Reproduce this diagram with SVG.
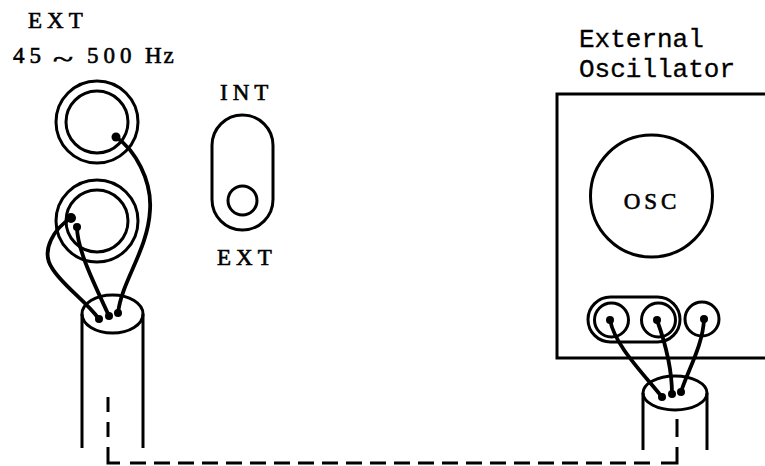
<svg xmlns="http://www.w3.org/2000/svg" width="765" height="466" viewBox="0 0 765 466">
<style>
.ln{fill:none;stroke:#000;stroke-width:3}
.w{fill:none;stroke:#000;stroke-width:3.8;stroke-linecap:round}
.d{fill:#000}
.dash{fill:none;stroke:#000;stroke-width:3}
.serif{font-family:"Liberation Serif","Times New Roman",serif;font-size:23px;fill:#000;stroke:#000;stroke-width:0.6}
.mono{font-family:"Liberation Mono","Courier New",monospace;font-size:26px;fill:#000;stroke:#000;stroke-width:0.3}
</style>
<rect width="765" height="466" fill="#fff"/>
<g id="labels">
<text class="serif" x="28" y="28" letter-spacing="5">EXT</text>
<text class="serif" x="13" y="63" letter-spacing="5">45</text>
<text class="serif" x="53" y="67" font-size="42" textLength="20" lengthAdjust="spacingAndGlyphs">~</text>
<text class="serif" x="87" y="63" letter-spacing="5">500</text>
<text class="serif" x="145" y="63" letter-spacing="2">Hz</text>
</g>
<g id="jack-top">
<circle class="ln" cx="97" cy="122" r="41"/>
<circle class="ln" cx="97" cy="122" r="31"/>
<circle class="d" cx="116" cy="137" r="4.5"/>
</g>
<g id="jack-bottom">
<circle class="ln" cx="97" cy="221" r="41"/>
<circle class="ln" cx="97" cy="221" r="31"/>
<circle class="d" cx="71" cy="218" r="5"/>
<circle class="d" cx="77" cy="227" r="4"/>
</g>
<g id="switch">
<text class="serif" x="220" y="100" letter-spacing="5">INT</text>
<rect class="ln" x="212" y="115" width="61" height="115" rx="30.5"/>
<circle class="ln" cx="242.5" cy="200.5" r="14.5"/>
<text class="serif" x="217" y="265" letter-spacing="5">EXT</text>
</g>
<g id="cable-left">
<path class="ln" d="M82,314 V448 M143,314 V448"/>
<ellipse class="ln" cx="112.5" cy="314" rx="30.5" ry="19"/>
<circle class="d" cx="99" cy="319" r="4"/>
<circle class="d" cx="109" cy="316" r="4"/>
<circle class="d" cx="118" cy="313" r="4"/>
</g>
<g id="oscillator">
<text class="mono" x="579" y="47">External</text>
<text class="mono" x="579" y="77">Oscillator</text>
<path class="ln" d="M767,94 H557 V358 H767"/>
<circle class="ln" cx="651.5" cy="196" r="61"/>
<text class="serif" x="652" y="209" font-size="26" letter-spacing="4" text-anchor="middle">OSC</text>
<rect class="ln" x="588" y="297" width="92" height="45" rx="22.5"/>
<circle class="ln" cx="611.5" cy="320" r="17"/>
<circle class="ln" cx="658.5" cy="320" r="17"/>
<circle class="ln" cx="702" cy="319" r="17"/>
<circle class="d" cx="610" cy="320" r="4"/>
<circle class="d" cx="657" cy="320" r="4"/>
<circle class="d" cx="704" cy="319" r="4"/>
</g>
<g id="cable-right">
<path class="ln" d="M643,393 V450 M707,393 V450"/>
<ellipse class="ln" cx="675" cy="393" rx="32" ry="17"/>
<circle class="d" cx="662" cy="397" r="4"/>
<circle class="d" cx="672" cy="394" r="4"/>
<circle class="d" cx="681" cy="392" r="4"/>
</g>
<g id="connectors">
<path class="w" d="M116,137 C135,150 152,180 150,210 C148,250 122,280 118,313"/>
<path class="w" d="M71,218 C55,228 40,250 52,268 C62,285 85,300 99,319"/>
<path class="w" d="M77,227 C77,250 95,285 109,316"/>
<path class="w" d="M610,320 C615,345 640,370 662,397"/>
<path class="w" d="M657,320 C666,345 672,370 672,394"/>
<path class="w" d="M704,319 C703,345 688,370 681,392"/>
<path class="dash" d="M108,397 V412 M108,422 V437 M108,447 V463 H120 M661,463 H677 V447 M677,437 V419"/>
<path class="dash" d="M130,463 H653" stroke-dasharray="16 8"/>
</g>
</svg>
